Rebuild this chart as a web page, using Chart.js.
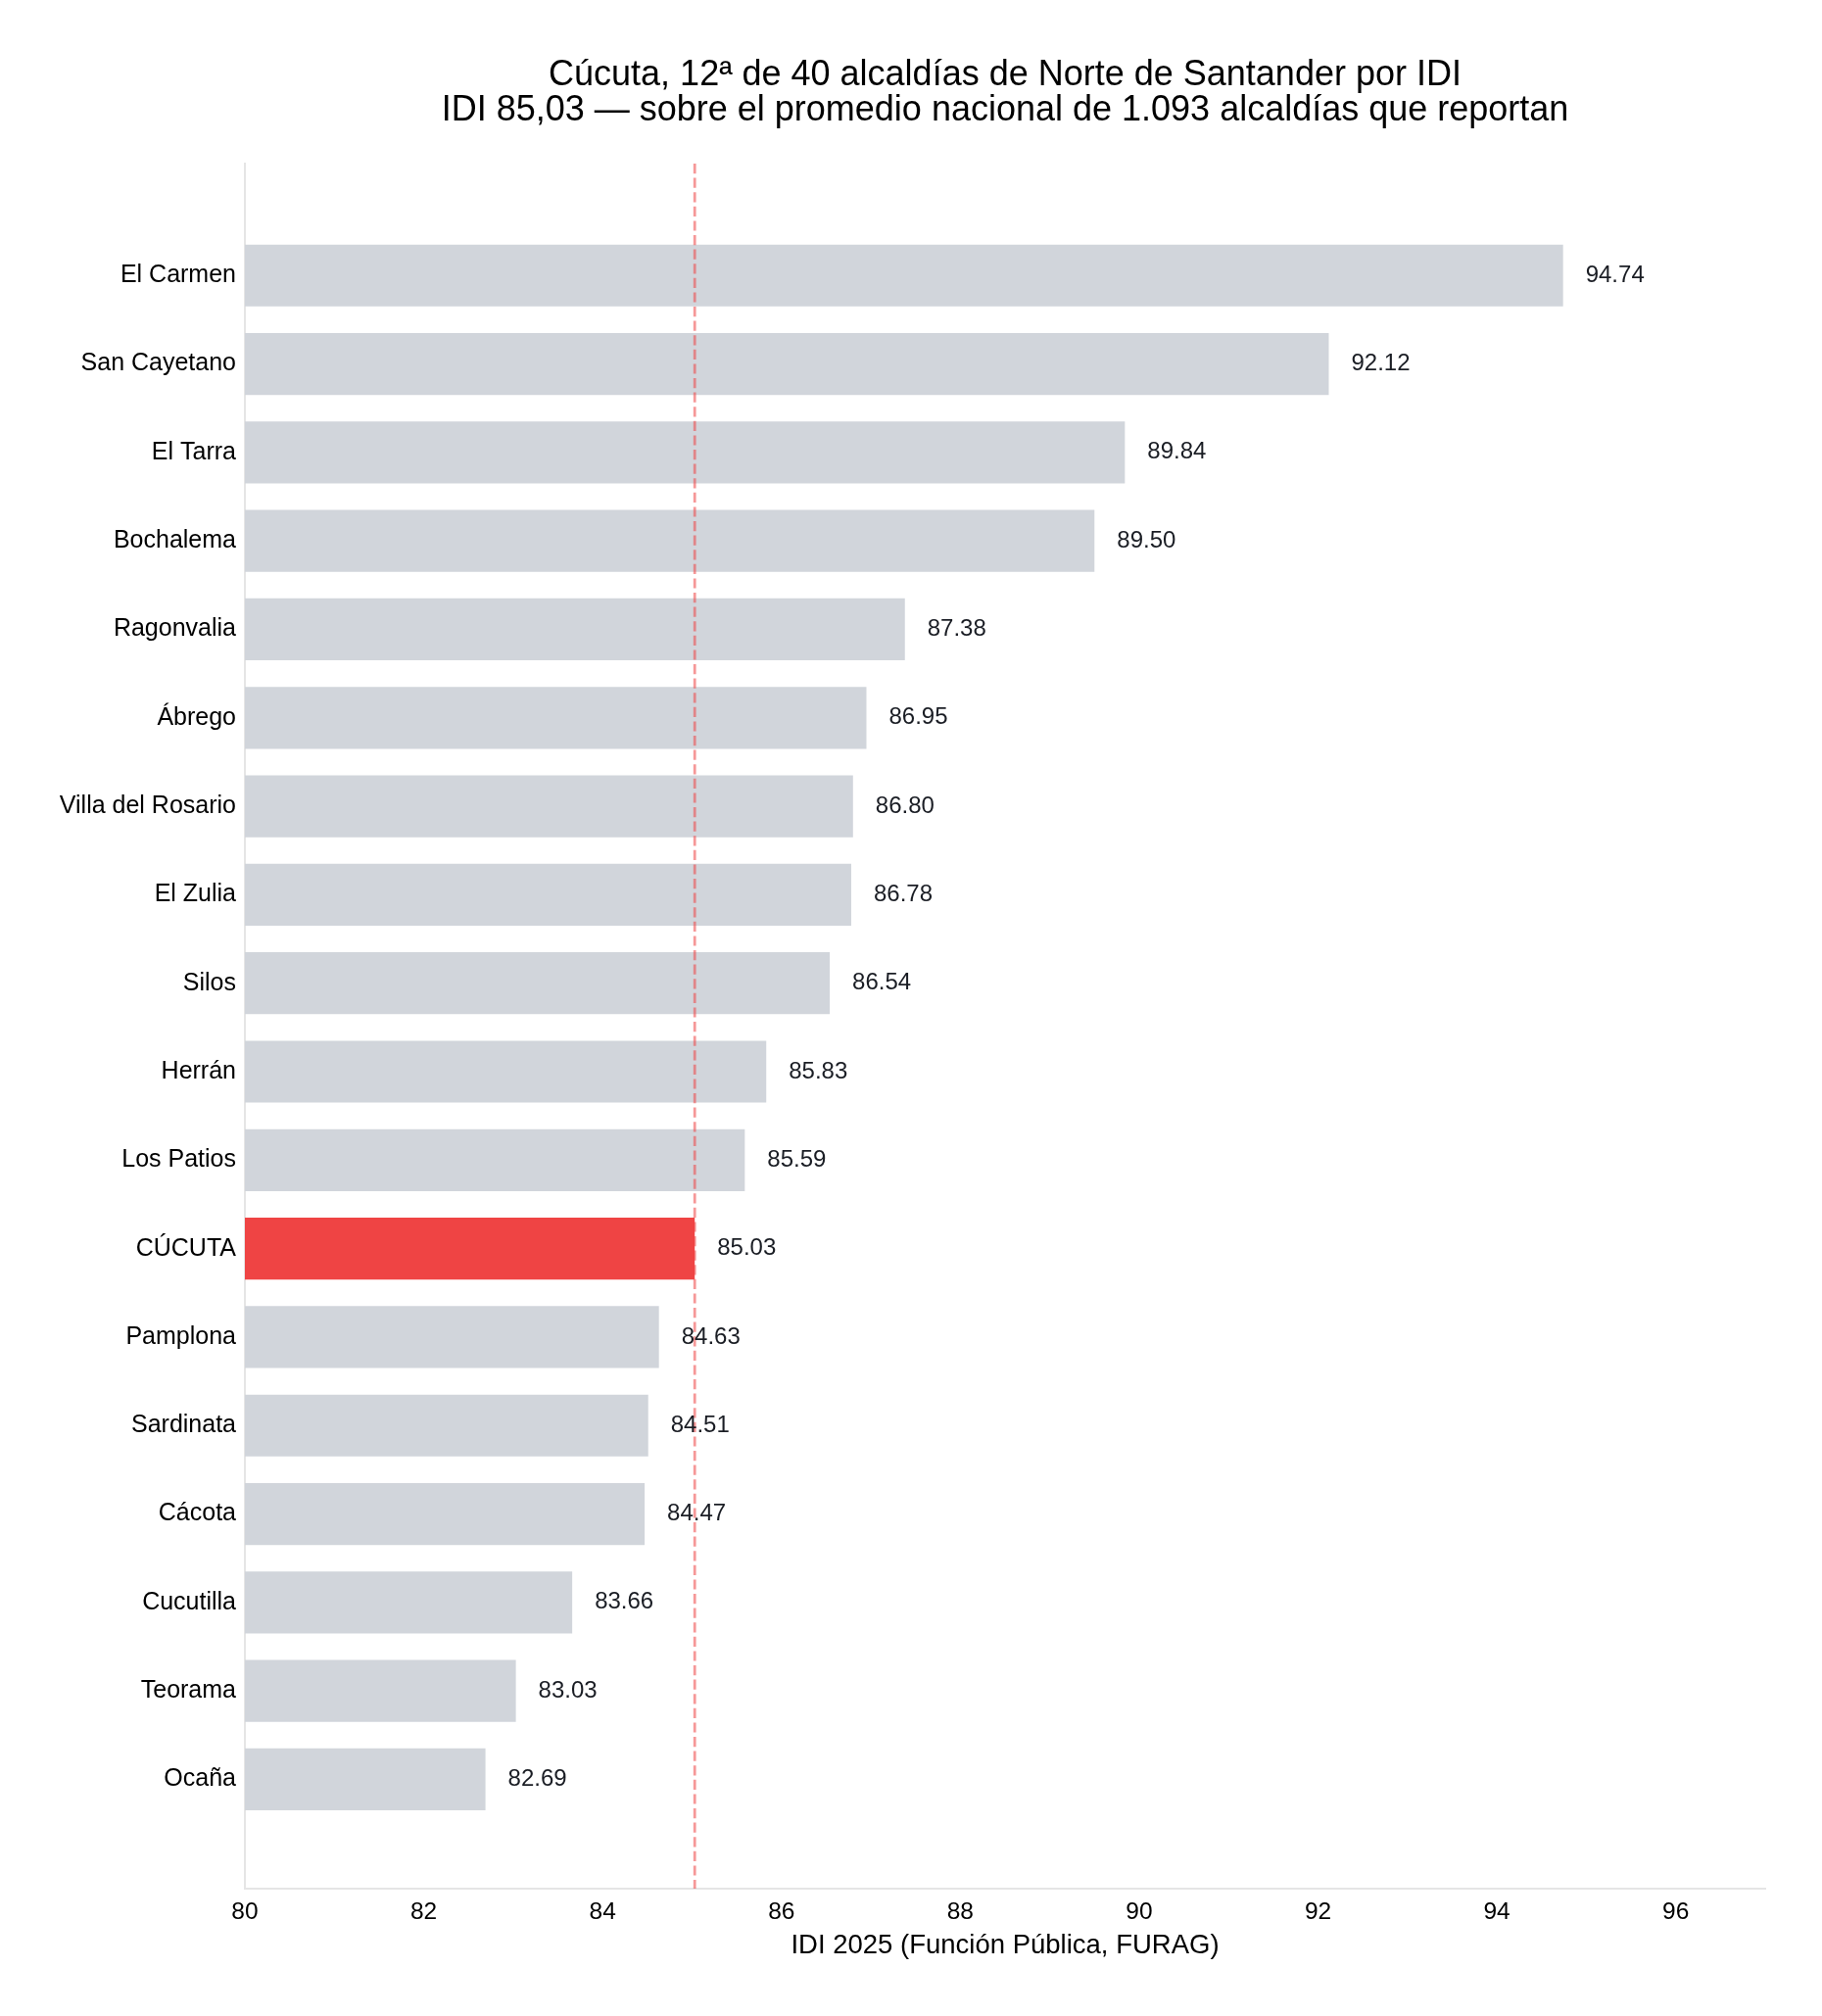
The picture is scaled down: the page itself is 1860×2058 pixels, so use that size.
<!DOCTYPE html>
<html>
<head>
<meta charset="utf-8">
<script src="https://cdn.jsdelivr.net/npm/chart.js@4.4.1/dist/chart.umd.min.js"></script>
<style>
    html, body { margin: 0; padding: 0; background: #fff; }
    #chart { display: block; }
</style>
</head>
<body>
<canvas id="chart" width="1860" height="2058" style="width:1860px;height:2058px"></canvas>
<script>
// IDI 2025 - Norte de Santander

const municipios = ['El Carmen', 'San Cayetano', 'El Tarra', 'Bochalema', 'Ragonvalia', 'Ábrego',
    'Villa del Rosario', 'El Zulia', 'Silos', 'Herrán', 'Los Patios', 'CÚCUTA', 'Pamplona',
    'Sardinata', 'Cácota', 'Cucutilla', 'Teorama', 'Ocaña'];
const idiValues = [94.74, 92.12, 89.84, 89.50, 87.38, 86.95, 86.80, 86.78, 86.54, 85.83, 85.59,
    85.03, 84.63, 84.51, 84.47, 83.66, 83.03, 82.69];
const highlight = 'CÚCUTA';
const refValue = 85.03;
const xTicks = [80, 82, 84, 86, 88, 90, 92, 94, 96];
const titleLines = [
    'Cúcuta, 12ª de 40 alcaldías de Norte de Santander por IDI',
    'IDI 85,03 — sobre el promedio nacional de 1.093 alcaldías que reportan'
];
const xTitle = 'IDI 2025 (Función Pública, FURAG)';

const FONT = '"Liberation Sans", Arial, "DejaVu Sans", sans-serif';

// Title centred on the plot area
const titlePlugin = {
    id: 'titleLines',
    afterDraw(chart) {
        const { ctx, chartArea } = chart;
        const cx = (chartArea.left + chartArea.right) / 2;
        ctx.save();
        ctx.fillStyle = '#000';
        ctx.font = `36px ${FONT}`;
        ctx.textAlign = 'center';
        ctx.textBaseline = 'alphabetic';
        ctx.fillText(titleLines[0], cx, 87);
        ctx.fillText(titleLines[1], cx, 123);
        ctx.restore();
    }
};

// Dashed reference line + value labels
const overlayPlugin = {
    id: 'overlay',
    afterDatasetsDraw(chart) {
        const { ctx, chartArea, scales } = chart;
        const x = scales.x.getPixelForValue(refValue);
        ctx.save();
        ctx.strokeStyle = 'rgba(239, 68, 68, 0.55)';
        ctx.lineWidth = 2.75;
        ctx.setLineDash([10.2, 4.4]);
        ctx.beginPath();
        ctx.moveTo(x, chartArea.top);
        ctx.lineTo(x, chartArea.bottom);
        ctx.stroke();
        ctx.restore();

        const meta = chart.getDatasetMeta(0);
        ctx.save();
        ctx.fillStyle = '#1a1d24';
        ctx.font = `24px ${FONT}`;
        ctx.textAlign = 'left';
        ctx.textBaseline = 'middle';
        meta.data.forEach((bar, i) => {
            ctx.fillText(idiValues[i].toFixed(2), bar.x + 23, bar.y);
        });
        ctx.restore();
    }
};

new Chart(document.getElementById('chart'), {
    type: 'bar',
    data: {
        datasets: [{
            data: idiValues.map((v, i) => ({ x: v, y: i })),
            backgroundColor: municipios.map(m => m === highlight ? '#ef4444' : '#d1d5db'),
            borderWidth: 0,
            categoryPercentage: 1,
            barPercentage: 0.7
        }]
    },
    options: {
        indexAxis: 'y',
        responsive: false,
        animation: false,
        devicePixelRatio: 1,
        layout: { padding: { top: 167, right: 58, left: 0, bottom: 0 } },
        plugins: {
            legend: { display: false },
            tooltip: { enabled: false },
            title: { display: false }
        },
        scales: {
            x: {
                type: 'linear',
                bounds: 'data',
                min: 80,
                max: 97,
                afterBuildTicks: (axis) => { axis.ticks = xTicks.map(v => ({ value: v })); },
                afterFit: (axis) => { axis.height = 130; },
                grid: { display: false, drawTicks: false },
                border: { display: true, color: '#e5e5e5', width: 2 },
                ticks: {
                    padding: 10,
                    color: '#000',
                    font: { family: FONT, size: 24.5 }
                },
                title: {
                    display: true,
                    text: xTitle,
                    color: '#000',
                    font: { family: FONT, size: 27.5 },
                    padding: { top: 0, bottom: 55.5 }
                }
            },
            y: {
                type: 'linear',
                bounds: 'data',
                offset: false,
                reverse: true,
                min: -1.265,
                max: 18.235,
                afterBuildTicks: (axis) => { axis.ticks = municipios.map((_, i) => ({ value: i })); },
                afterFit: (axis) => { axis.width = 250; },
                grid: { display: false, drawTicks: false, offset: false },
                border: { display: true, color: '#e5e5e5', width: 2 },
                ticks: {
                    padding: 9,
                    color: '#000',
                    font: { family: FONT, size: 25 },
                    callback: (value) => municipios[value] ?? ''
                }
            }
        }
    },
    plugins: [titlePlugin, overlayPlugin]
});
</script>
</body>
</html>
